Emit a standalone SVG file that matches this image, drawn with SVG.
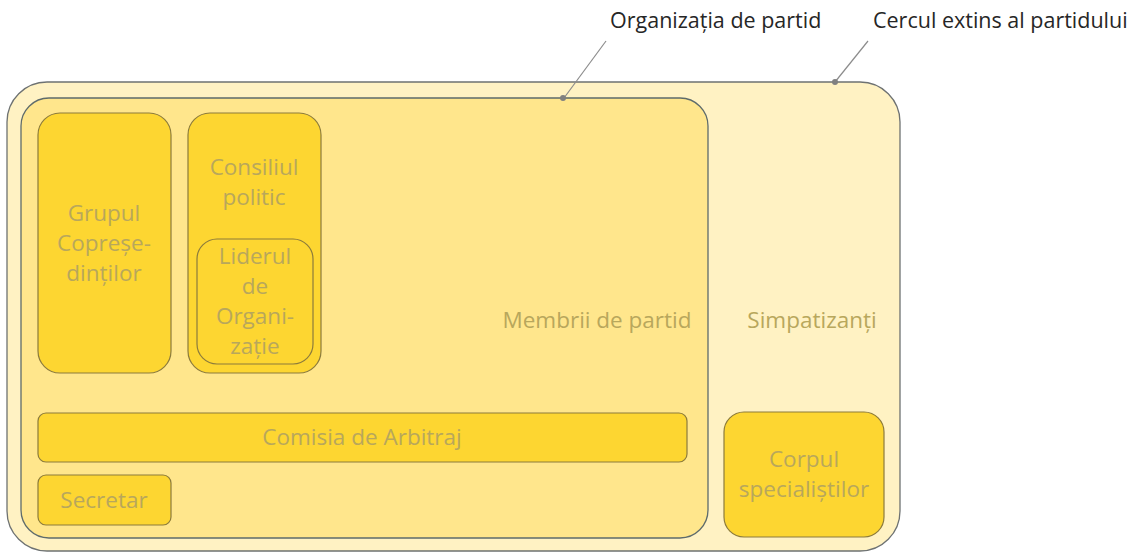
<svg xmlns="http://www.w3.org/2000/svg" width="1139" height="552" viewBox="0 0 1139 552">
<style>
.lbl{font-family:"Open Sans","Liberation Sans",sans-serif;font-size:21.5px;fill:#262626;}
.t{font-family:"Open Sans","Liberation Sans",sans-serif;font-size:22.5px;fill:#B8A75C;text-anchor:middle;}
.box{fill:#FDD631;stroke:#8C7B3C;stroke-width:1.2;}
</style>
<rect width="1139" height="552" fill="#fff"/>
<g id="cercul">
<rect x="7" y="82" width="893" height="469" rx="40" fill="#FFF2C3" stroke="#6E7272" stroke-width="1.3"/>
<text class="t" x="812" y="328">Simpatizanți</text>
</g>
<g id="organizatia">
<rect x="21" y="98" width="687" height="440" rx="28" fill="#FFE68C" stroke="#5E6B6B" stroke-width="1.3"/>
<text class="t" x="597" y="328">Membrii de partid</text>
</g>
<g id="grupul">
<rect class="box" x="38" y="113" width="133" height="260" rx="22"/>
<text class="t" x="104" y="221">Grupul</text>
<text class="t" x="104" y="251">Copreșe-</text>
<text class="t" x="104" y="281">dinților</text>
</g>
<g id="consiliul">
<rect class="box" x="188" y="113" width="133" height="260" rx="22"/>
<text class="t" x="254" y="175">Consiliul</text>
<text class="t" x="254" y="205">politic</text>
</g>
<g id="liderul">
<rect class="box" x="197" y="239" width="116" height="125" rx="20"/>
<text class="t" x="255" y="264">Liderul</text>
<text class="t" x="255" y="294">de</text>
<text class="t" x="255" y="324">Organi-</text>
<text class="t" x="255" y="354">zație</text>
</g>
<g id="comisia">
<rect class="box" x="38" y="413" width="649" height="49" rx="8"/>
<text class="t" x="362" y="445">Comisia de Arbitraj</text>
</g>
<g id="secretar">
<rect class="box" x="38" y="475" width="133" height="50" rx="8"/>
<text class="t" x="104" y="508">Secretar</text>
</g>
<g id="corpul">
<rect class="box" x="724" y="412" width="160" height="125" rx="20"/>
<text class="t" x="804" y="467">Corpul</text>
<text class="t" x="804" y="497">specialiștilor</text>
</g>
<g id="connectors" stroke="#8C8C8C" stroke-width="1.2" fill="#808080">
<line x1="606" y1="41" x2="564" y2="98"/>
<circle cx="563" cy="98" r="3" stroke="none"/>
<line x1="868" y1="41" x2="835" y2="82"/>
<circle cx="835" cy="82" r="3" stroke="none"/>
</g>
<g id="labels">
<text class="lbl" x="610" y="28">Organizația de partid</text>
<text class="lbl" x="873" y="28">Cercul extins al partidului</text>
</g>
</svg>
